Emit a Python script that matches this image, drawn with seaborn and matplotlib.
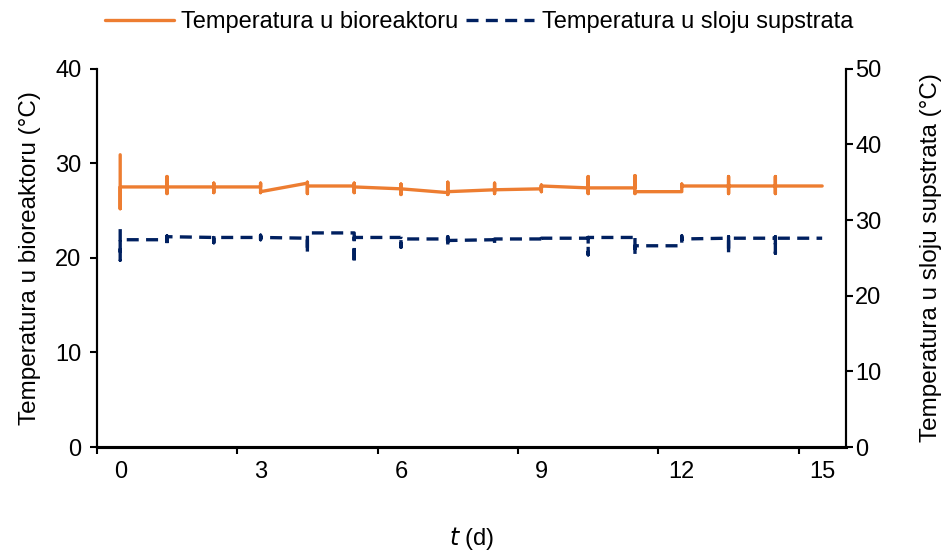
import matplotlib
matplotlib.use("Agg")

import matplotlib.pyplot as plt
import pandas as pd
import seaborn as sns

# readings per day (drawn in order, several readings fall on the same day)
days = list(range(16))

bio_readings = [
    [30.9, 25.2, 27.5],
    [27.5, 28.6, 26.8, 27.5],
    [27.5, 27.9, 26.9, 27.5],
    [27.5, 27.9, 26.9, 27.0],
    [27.9, 28.0, 26.8, 27.6],
    [27.6, 27.9, 26.9, 27.5],
    [27.3, 27.8, 26.7, 27.3],
    [26.9, 28.0, 26.7, 27.0],
    [27.2, 27.9, 26.8, 27.2],
    [27.3, 27.7, 27.0, 27.6],
    [27.4, 28.6, 26.8, 27.4],
    [27.4, 28.7, 26.8, 27.0],
    [27.0, 27.8, 27.6],
    [27.6, 28.6, 26.8, 27.6],
    [27.6, 28.6, 26.8, 27.6],
    [27.6],
]

sub_readings = [
    [28.8, 24.7, 27.4],
    [27.4, 27.9, 26.5, 27.8],
    [27.7, 28.1, 27.0, 27.7],
    [27.7, 28.0, 27.4, 27.7],
    [27.6, 25.6, 28.3],
    [28.3, 24.2, 27.7],
    [27.7, 27.9, 26.4, 27.5],
    [27.5, 27.8, 26.4, 27.3],
    [27.4, 27.7, 26.9, 27.5],
    [27.5, 27.7, 27.2, 27.6],
    [27.6, 27.7, 25.4, 27.7],
    [27.7, 28.0, 25.3, 26.6],
    [26.6, 27.9, 27.5],
    [27.6, 27.8, 25.5, 27.6],
    [27.6, 27.8, 25.6, 27.6],
    [27.6],
]

bio_label = "Temperatura u bioreaktoru"
sub_label = "Temperatura u sloju supstrata"
x_labels = [0, 3, 6, 9, 12, 15]


def to_frame(readings):
    rows = []
    for d, vals in zip(days, readings):
        for v in vals:
            rows.append({"t": d, "T": v})
    return pd.DataFrame(rows)


def main():
    sns.set_style("ticks")
    plt.rcParams["font.family"] = ["Liberation Sans", "DejaVu Sans"]
    plt.rcParams["font.size"] = 17
    plt.rcParams["text.color"] = "black"
    plt.rcParams["axes.labelcolor"] = "black"
    plt.rcParams["xtick.color"] = "black"
    plt.rcParams["ytick.color"] = "black"
    plt.rcParams["axes.edgecolor"] = "black"

    bio_df = to_frame(bio_readings)
    sub_df = to_frame(sub_readings)

    fig = plt.figure(figsize=(9.49, 5.54), dpi=100)
    ax = fig.add_axes([0.102, 0.193, 0.789, 0.683])
    ax2 = ax.twinx()

    sns.lineplot(data=bio_df, x="t", y="T", ax=ax, estimator=None, sort=False,
                 color="#ED7D31", linewidth=2.4, label=bio_label, legend=False)
    sns.lineplot(data=sub_df, x="t", y="T", ax=ax2, estimator=None, sort=False,
                 color="#002060", linewidth=2.4, label=sub_label, legend=False)
    ax2.lines[0].set_linestyle((0, (3.6, 2.2)))

    ax.set_xlim(-0.5, 15.5)
    ax.set_ylim(0, 40)
    ax2.set_ylim(0, 50)
    ax.set_yticks([0, 10, 20, 30, 40])
    ax2.set_yticks([0, 10, 20, 30, 40, 50])

    # tick marks sit between the day labels, labels on minor ticks
    ax.set_xticks([x - 0.5 for x in x_labels])
    ax.set_xticklabels([])
    ax.set_xticks(x_labels, minor=True)
    ax.set_xticklabels([str(x) for x in x_labels], minor=True)
    ax.tick_params(axis="x", which="minor", length=0, pad=10, labelsize=17)
    ax.tick_params(axis="x", which="major", length=5, width=1.5, direction="out")
    ax.tick_params(axis="y", length=5, width=1.5, pad=6, labelsize=17)
    ax2.tick_params(axis="y", length=5, width=1.5, pad=2, labelsize=17)

    for a in (ax, ax2):
        a.spines["top"].set_visible(False)
        for s in ("left", "right"):
            a.spines[s].set_linewidth(1.5)
        a.spines["bottom"].set_linewidth(2.2)
        a.grid(False)

    ax.set_xlabel(r"$\it{t}$ (d)", fontsize=17, labelpad=30)
    ax.set_ylabel("Temperatura u bioreaktoru (°C)", fontsize=17.5, labelpad=10)
    ax2.set_ylabel("Temperatura u sloju supstrata (°C)", fontsize=17.5, labelpad=28)

    handles = ax.get_lines()[:1] + ax2.get_lines()[:1]
    fig.legend(handles, [bio_label, sub_label], loc="upper center",
               bbox_to_anchor=(0.505, 1.018), ncol=2, frameon=False,
               handlelength=2.9, handletextpad=0.33, columnspacing=0.3,
               fontsize=17)

    fig.savefig("out.png", dpi=100)
    plt.close(fig)


if __name__ == "__main__":
    main()
